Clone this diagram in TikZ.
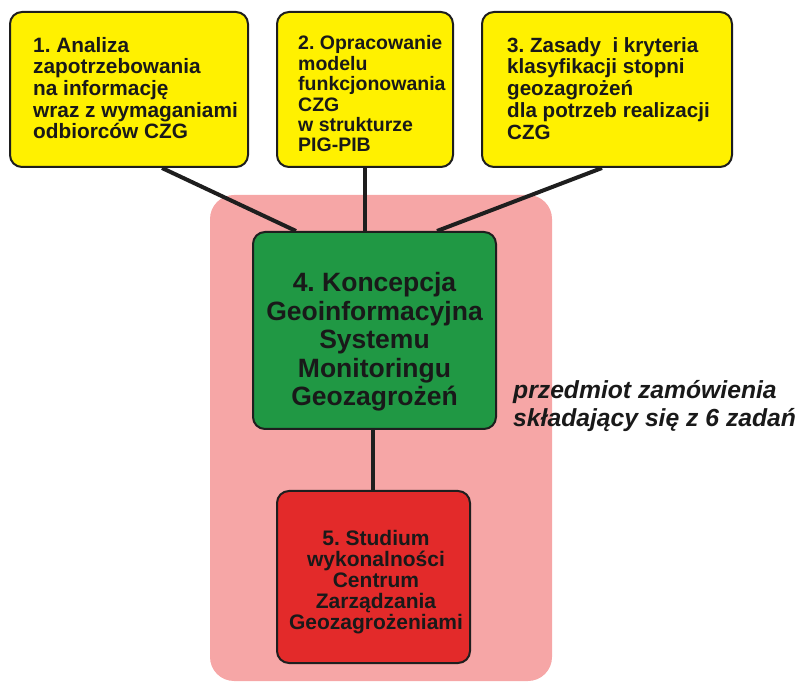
\documentclass[tikz,border=0pt]{standalone}
\usepackage{fontspec}
\setmainfont{Liberation Sans}
\usetikzlibrary{calc}
\frenchspacing
\definecolor{ybox}{RGB}{255,241,0}
\definecolor{gbox}{RGB}{32,152,68}
\definecolor{rbox}{RGB}{227,42,42}
\definecolor{pinkbg}{RGB}{246,166,166}
\definecolor{edge}{RGB}{30,30,30}
\definecolor{txt}{RGB}{25,25,25}
\begin{document}
\begin{tikzpicture}[x=1pt,y=-1pt,
  box/.style={draw=edge, line width=2pt, rounded corners=12pt, inner sep=0pt},
  btxt/.style={inner sep=0pt, text=txt, font=\bfseries},
  conn/.style={draw=edge, line width=4pt}]
\useasboundingbox (0,0) rectangle (801,684);
% background region
\node[fill=pinkbg, rounded corners=24pt, minimum width=342pt, minimum height=486pt, inner sep=0pt] (bg) at (381,438) {};
% boxes
\node[box, fill=ybox, minimum width=238pt, minimum height=155pt] (b1) at (129,89.5) {};
\node[box, fill=ybox, minimum width=176pt, minimum height=155pt] (b2) at (365,89.5) {};
\node[box, fill=ybox, minimum width=250pt, minimum height=155pt] (b3) at (607,89.5) {};
\node[box, fill=gbox, minimum width=243pt, minimum height=197pt] (g) at (374.5,330.5) {};
\node[box, fill=rbox, minimum width=193pt, minimum height=172pt] (r) at (373.5,577) {};
% connectors
\draw[conn] ([xshift=153pt]b1.south west) -- ([xshift=44pt]g.north west);
\draw[conn] (b2.south) -- (b2.south |- g.north);
\draw[conn] ([xshift=121pt]b3.south west) -- ([xshift=185pt]g.north west);
\draw[conn] ([xshift=-1.5pt]g.south) -- ([xshift=-1.5pt]g.south |- r.north);
% texts
\node[btxt, anchor=north west, align=left, font=\bfseries\fontsize{20.8}{21.6}\selectfont] (t1) at (33,37)
  {1. Analiza\\zapotrzebowania\\na informację\\wraz z wymaganiami\\odbiorców CZG};
\node[btxt, anchor=north west, align=left, font=\bfseries\fontsize{19.5}{20.4}\selectfont] (t2) at (298,35.5)
  {2. Opracowanie\\modelu\\funkcjonowania\\CZG\\w strukturze\\PIG-PIB};
\node[btxt, anchor=north west, align=left, font=\bfseries\fontsize{20.6}{21.8}\selectfont] (t3) at (507,37)
  {3. Zasady\ \ i kryteria\\klasyfikacji stopni\\geozagrożeń\\dla potrzeb realizacji\\CZG};
\node[btxt, anchor=north, align=center, font=\bfseries\fontsize{26.5}{28.5}\selectfont] (t4) at (374.5,272.5)
  {4. Koncepcja\\Geoinformacyjna\\Systemu\\Monitoringu\\Geozagrożeń};
\node[btxt, anchor=north, align=center, font=\bfseries\fontsize{21}{20.9}\selectfont] (t5) at (376,530)
  {5. Studium\\wykonalności\\Centrum\\Zarządzania\\Geozagrożeniami};
\node[btxt, anchor=north west, align=left, font=\bfseries\itshape\fontsize{24.7}{28}\selectfont] (t6) at (513,380)
  {przedmiot zamówienia\\składający się z 6 zadań};
\end{tikzpicture}
\end{document}
